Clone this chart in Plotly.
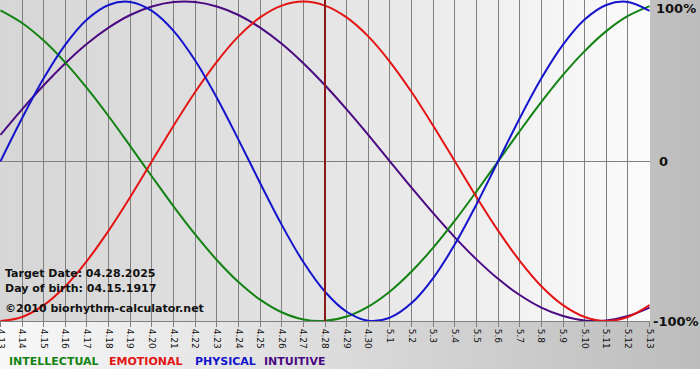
import base64
import plotly.graph_objects as go

# ---- data ----
dates = ["4.13", "4.14", "4.15", "4.16", "4.17", "4.18", "4.19", "4.20", "4.21", "4.22",
         "4.23", "4.24", "4.25", "4.26", "4.27", "4.28", "4.29", "4.30", "5.1", "5.2",
         "5.3", "5.4", "5.5", "5.6", "5.7", "5.8", "5.9", "5.10", "5.11", "5.12", "5.13"]

physical = [0.0, 0.27, 0.52, 0.731, 0.888, 0.979, 0.998, 0.942, 0.817, 0.631,
            0.398, 0.136, -0.136, -0.398, -0.631, -0.817, -0.942, -0.998, -0.979, -0.888,
            -0.731, -0.52, -0.27, 0.0, 0.27, 0.52, 0.731, 0.888, 0.979, 0.998, 0.942]

emotional = [-1.0, -0.975, -0.901, -0.782, -0.623, -0.434, -0.223, 0.0, 0.223, 0.434,
             0.623, 0.782, 0.901, 0.975, 1.0, 0.975, 0.901, 0.782, 0.623, 0.434,
             0.223, 0.0, -0.223, -0.434, -0.623, -0.782, -0.901, -0.975, -1.0, -0.975, -0.901]

intellectual = [0.945, 0.866, 0.756, 0.618, 0.458, 0.282, 0.095, -0.095, -0.282, -0.458,
                -0.618, -0.756, -0.866, -0.945, -0.99, -0.999, -0.972, -0.91, -0.815, -0.69,
                -0.541, -0.372, -0.189, 0.0, 0.189, 0.372, 0.541, 0.69, 0.815, 0.91, 0.972]

intuitive = [0.165, 0.325, 0.476, 0.614, 0.736, 0.837, 0.916, 0.969, 0.997, 0.997,
             0.969, 0.916, 0.837, 0.736, 0.614, 0.476, 0.325, 0.165, 0.0, -0.165,
             -0.325, -0.476, -0.614, -0.736, -0.837, -0.916, -0.969, -0.997, -0.997, -0.969, -0.916]

target_date = "4.28"
y_tick_vals = [1, 0, -1]
y_tick_text = ["100%", "0", "-100%"]
legend_names = ["INTELLECTUAL", "EMOTIONAL", "PHYSICAL", "INTUITIVE"]
info_lines = ["Target Date: 04.28.2025", "Day of birth: 04.15.1917", "©2010 biorhythm-calculator.net"]

# ---- styles ----
C_INT = "#128312"
C_EMO = "#e41414"
C_PHY = "#1414cc"
C_ITU = "#4b0a82"
C_TGT = "#8a1a1a"
FONT = "DejaVu Sans"

W, H = 700, 380
L, R, T, B = 0, 50, 0, 59
pw = W - L - R
ph = H - T - B

idx = list(range(len(dates)))

fig = go.Figure()
for vals, col in [(intuitive, C_ITU), (intellectual, C_INT), (emotional, C_EMO), (physical, C_PHY)]:
    fig.add_trace(go.Scatter(x=idx, y=vals, mode="lines",
                             line=dict(color=col, width=2, shape="spline", smoothing=1.0),
                             hoverinfo="skip", showlegend=False))

ti = dates.index(target_date)
fig.add_trace(go.Scatter(x=[ti, ti], y=[-1.05, 1.05], mode="lines",
                         line=dict(color=C_TGT, width=2), hoverinfo="skip", showlegend=False))

# background gradients via inline SVG
svg = f'''<svg xmlns="http://www.w3.org/2000/svg" width="{W}" height="{H}" viewBox="0 0 {W} {H}" preserveAspectRatio="none">
<defs>
<linearGradient id="o" x1="0" y1="0" x2="1" y2="0">
<stop offset="0" stop-color="#f8f8f8"/><stop offset="1" stop-color="#bcbcbc"/></linearGradient>
<linearGradient id="p" x1="0" y1="0" x2="1" y2="0">
<stop offset="0" stop-color="#d6d6d6"/><stop offset="0.5" stop-color="#e4e4e4"/><stop offset="1" stop-color="#fbfbfb"/></linearGradient>
</defs>
<rect x="0" y="0" width="{W}" height="{H}" fill="#ffffff"/>
<rect x="0" y="0" width="{W}" height="369" fill="url(#o)"/>
<rect x="0" y="0" width="650" height="321" fill="url(#p)"/>
</svg>'''
src = "data:image/svg+xml;base64," + base64.b64encode(svg.encode()).decode()
fig.add_layout_image(dict(source=src, xref="paper", yref="paper",
                          x=-L / pw, y=1 + T / ph, sizex=W / pw, sizey=H / ph,
                          xanchor="left", yanchor="top", sizing="stretch", layer="below"))

annotations = []
# right-hand percentage labels
y_label_pos = [0.955, 0.0, -1.0]
y_label_shift = [4, 7, 1]
for v, t, sh in zip(y_label_pos, y_tick_text, y_label_shift):
    annotations.append(dict(x=1, xref="paper", xanchor="left", xshift=sh,
                            y=v, yref="y", yanchor="middle",
                            text=f"<b>{t}</b>", showarrow=False,
                            font=dict(family=FONT, size=13, color="#111111")))

# info text block
info_y = [-0.70, -0.795, -0.92]
for t, yy in zip(info_lines, info_y):
    annotations.append(dict(x=3 / pw, xref="paper", xanchor="left",
                            y=yy, yref="y", yanchor="middle",
                            text=f"<b>{t}</b>", showarrow=False,
                            font=dict(family=FONT, size=11, color="#111111")))

# coloured legend row
leg_x = [7, 107, 193, 262]
leg_col = [C_INT, C_EMO, C_PHY, C_ITU]
for name, x0, col in zip(legend_names, leg_x, leg_col):
    annotations.append(dict(x=x0 / pw, xref="paper", xanchor="left",
                            y=-(361 - 321) / ph, yref="paper", yanchor="middle",
                            text=f"<b>{name}</b>", showarrow=False,
                            font=dict(family=FONT, size=11, color=col)))

fig.update_layout(
    width=W, height=H,
    margin=dict(l=L, r=R, t=T, b=B, pad=0, autoexpand=False),
    paper_bgcolor="rgba(0,0,0,0)",
    plot_bgcolor="rgba(0,0,0,0)",
    showlegend=False,
    annotations=annotations,
    xaxis=dict(range=[-0.02, 30.02], tickmode="array", tickvals=idx, ticktext=dates,
               tickangle=90, ticks="outside", ticklen=5, tickcolor="#808080", tickwidth=1,
               ticklabeloverflow="allow", automargin=False,
               showgrid=True, gridcolor="#808080", gridwidth=1,
               showline=True, linecolor="#808080", linewidth=1,
               zeroline=False, fixedrange=True,
               tickfont=dict(family=FONT, size=9, color="#111111")),
    yaxis=dict(range=[-1.0, 1.01], showticklabels=False, showgrid=False,
               zeroline=True, zerolinecolor="#808080", zerolinewidth=1,
               ticks="", fixedrange=True, automargin=False),
)

fig.write_html("out.html", config={"displayModeBar": False, "staticPlot": True},
               post_script="document.body.style.margin='0';document.body.style.overflow='hidden';")
